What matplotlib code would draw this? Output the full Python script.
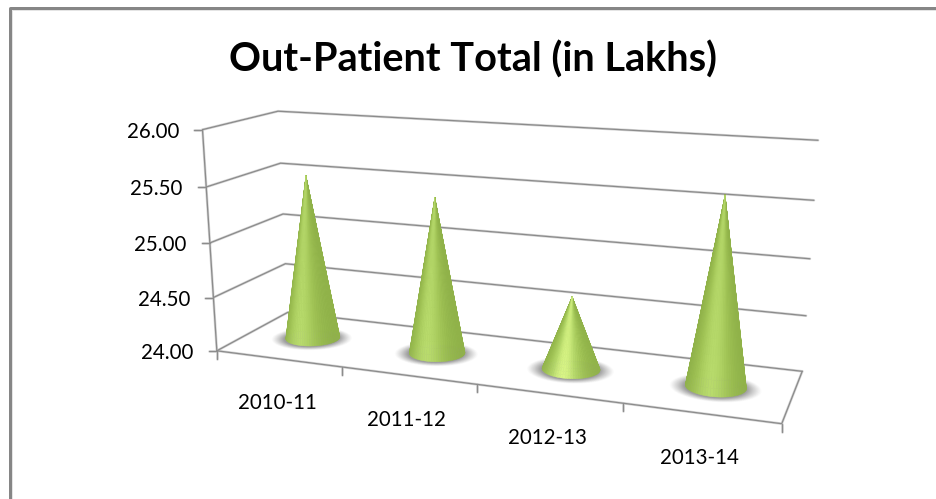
import numpy as np
import matplotlib
matplotlib.use('Agg')
import matplotlib.pyplot as plt
from matplotlib.collections import PolyCollection
from matplotlib.colors import LinearSegmentedColormap
from matplotlib.patches import Polygon

# Dane
years = ['2010-11', '2011-12', '2012-13', '2013-14']
patients = [25.53, 25.42, 24.65, 25.62]
y_ticks = [24.0, 24.5, 25.0, 25.5, 26.0]

GRID = '#8c8c8c'
GRID_SOFT = '#d8d8d8'
PX = 0.72  # 1 px in points at dpi=100

# Camera: (category, depth, value) -> picture pixels, fitted to the chart box corners
box = [(0, 0, 24), (0, 0, 25), (0, 0, 26), (0, 1, 24), (0, 1, 25), (0, 1, 26),
       (4, 1, 24), (4, 1, 25), (4, 1, 26), (4, 0, 24)]
box_px = [(217, 351), (209, 243), (203, 130), (288, 312), (283, 214), (278, 111),
          (802, 372), (810, 259), (818, 140), (782, 423)]

rows = []
for (a, b, c), (u, v) in zip(box, box_px):
    rows.append([a, b, c, 1, 0, 0, 0, 0, -u * a, -u * b, -u * c, -u])
    rows.append([0, 0, 0, 0, a, b, c, 1, -v * a, -v * b, -v * c, -v])
cam = np.linalg.svd(np.array(rows, float))[2][-1].reshape(3, 4)


def project(x, d, z):
    x, d, z = np.broadcast_arrays(np.asarray(x, float), np.asarray(d, float), np.asarray(z, float))
    p = cam @ np.stack([x.ravel(), d.ravel(), z.ravel(), np.ones(x.size)])
    return np.column_stack([p[0] / p[2], p[1] / p[2]])


fig = plt.figure(figsize=(9.36, 4.99), dpi=100)
ax = fig.add_axes([0, 0, 1, 1])
ax.set_xlim(0, 936)
ax.set_ylim(499, 0)
ax.axis('off')

# Ramka wykresu (tylko gora i lewa strona sa widoczne)
ax.plot([11.5, 11.5, 936], [499, 9.5, 9.5], color='#e4e4e4', lw=1 * PX, solid_capstyle='butt')
ax.plot([9.5, 9.5, 936], [499, 7.5, 7.5], color='#868686', lw=3 * PX, solid_capstyle='butt')


def grid_line(points, zorder=2):
    pts = np.array(points)
    ax.plot(pts[:, 0], pts[:, 1], color=GRID_SOFT, lw=2.6 * PX, zorder=zorder, solid_capstyle='round')
    ax.plot(pts[:, 0], pts[:, 1], color=GRID, lw=1.3 * PX, zorder=zorder + 0.1, solid_capstyle='round')


# Siatka: sciana lewa, tylna i podloga
for val in y_ticks:
    grid_line(project([0, 0, 4], [0, 1, 1], [val, val, val]))
    p = project(0, 0, val)[0]
    grid_line([p, p + [-8, 0]])
    ax.text(p[0] - 23.5, p[1] + 2, f'{val:.2f}', ha='right', va='center',
            fontsize=14.8, family='Lato', color='black')

grid_line(project([0, 0], [0, 0], [y_ticks[0], y_ticks[-1]]))
grid_line(project([0, 4, 4], [0, 0, 1], [24, 24, 24]))
for i in range(5):
    p = project(i, 0, 24)[0]
    grid_line([p, p + [0, 8]])

# Podpisy kategorii
for i, year in enumerate(years):
    p = project(i + 0.5, 0, 24)[0]
    ax.text(p[0] - 1, p[1] + 44.5, year, ha='center', va='center',
            fontsize=14.8, family='Lato', color='black')

ax.text(473, 60, 'Out-Patient Total (in Lakhs)', ha='center', va='center',
        fontsize=28.5, fontweight='bold', family='Lato', color='black')

# Stozki
cone_cmap = LinearSegmentedColormap.from_list(
    'cone', [(0, '#8cae46'), (0.35, '#a0c355'), (0.7, '#b6d96a'), (1, '#d8f585')])
r_x, r_d = 0.2, 0.19
n_theta, n_h = 72, 24
theta = np.linspace(0, 2 * np.pi, n_theta + 1)

for i, val in enumerate(patients):
    cx, cd = i + 0.5, 0.5
    peak = 0.72 + 0.28 * max(0.0, (1.45 - (val - 24)) / 0.8)

    # Cien pod stozkiem
    for s, a in zip(np.linspace(1.5, 1.02, 14), np.linspace(0.025, 0.085, 14)):
        ring = project(cx + s * r_x * np.cos(theta), cd + (1 + (s - 1) * 0.8) * r_d * np.sin(theta) - 0.015, 24)
        ax.add_patch(Polygon(ring, closed=True, fc='#555555', ec='none', alpha=a, zorder=3))

    polys, shades = [], []
    # back half first, front half over it
    order = sorted(range(n_theta), key=lambda k: -np.sin((theta[k] + theta[k + 1]) / 2))
    for k in order:
        mid = (theta[k] + theta[k + 1]) / 2
        side = np.cos(mid)
        for h in range(n_h):
            t0, t1 = h / n_h, (h + 1) / n_h
            quad = np.vstack([
                project(cx + (1 - t0) * r_x * np.cos(theta[k]), cd + (1 - t0) * r_d * np.sin(theta[k]), 24 + t0 * (val - 24)),
                project(cx + (1 - t0) * r_x * np.cos(theta[k + 1]), cd + (1 - t0) * r_d * np.sin(theta[k + 1]), 24 + t0 * (val - 24)),
                project(cx + (1 - t1) * r_x * np.cos(theta[k + 1]), cd + (1 - t1) * r_d * np.sin(theta[k + 1]), 24 + t1 * (val - 24)),
                project(cx + (1 - t1) * r_x * np.cos(theta[k]), cd + (1 - t1) * r_d * np.sin(theta[k]), 24 + t1 * (val - 24)),
            ])
            polys.append(quad)
            shades.append(peak * np.exp(-(side / 0.65) ** 2) * (1 - 0.12 * (t0 + t1) / 2))
    ax.add_collection(PolyCollection(polys, array=np.array(shades), cmap=cone_cmap, clim=(0, 1),
                                     edgecolors='face', linewidths=0.3, zorder=4))

fig.savefig('out.png', dpi=100)
